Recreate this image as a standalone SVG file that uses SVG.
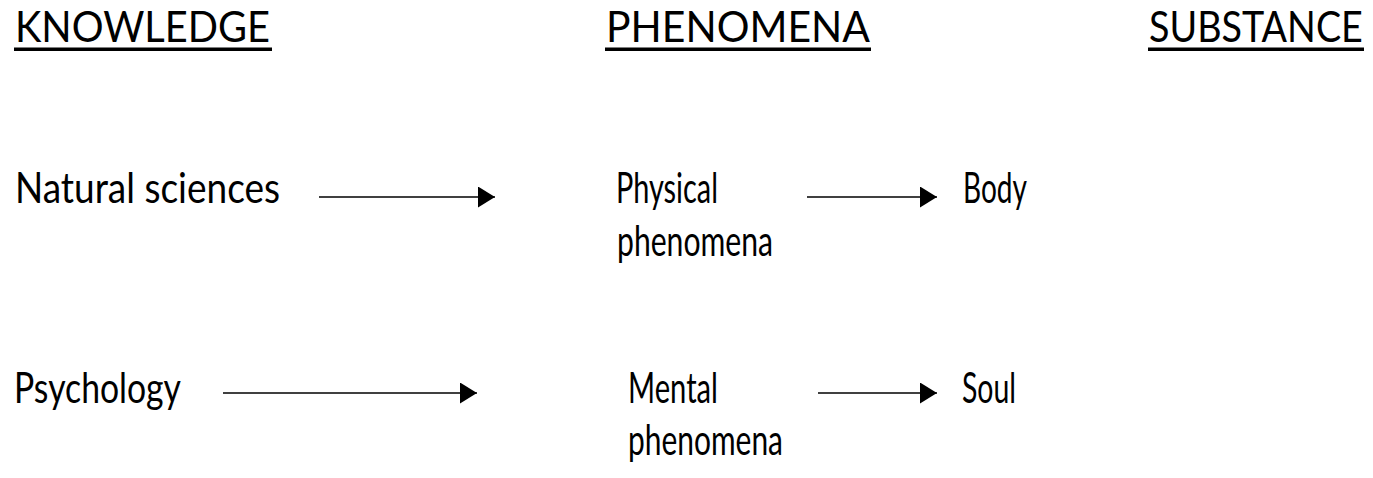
<svg xmlns="http://www.w3.org/2000/svg" width="1373" height="478" viewBox="0 0 1373 478">
<style>
text{font-family:Lato,"Open Sans","Liberation Sans",sans-serif;font-size:43px;fill:#000}
.ul{fill:#000}
.conn line{stroke:#000;stroke-width:1.6}
</style>
<defs>
<marker id="ah" markerUnits="userSpaceOnUse" markerWidth="17" markerHeight="21" refX="17" refY="10.5" orient="auto">
<path d="M0,0 L17,10.5 L0,21 z" fill="#000"/>
</marker>
</defs>
<rect width="1373" height="478" fill="#fff"/>
<g id="h-knowledge"><text x="15" y="42" textLength="255" lengthAdjust="spacingAndGlyphs">KNOWLEDGE</text><rect class="ul" x="14" y="47.5" width="258" height="3.5"/></g>
<g id="h-phenomena"><text x="606" y="42" textLength="264" lengthAdjust="spacingAndGlyphs">PHENOMENA</text><rect class="ul" x="605" y="47.5" width="266" height="3.5"/></g>
<g id="h-substance"><text transform="translate(1149,42) scale(0.88,1)" x="0" y="0" textLength="243" lengthAdjust="spacingAndGlyphs">SUBSTANCE</text><rect class="ul" x="1148" y="47.5" width="216" height="3.5"/></g>
<g id="n-natural"><text x="15" y="203" textLength="265" lengthAdjust="spacingAndGlyphs">Natural sciences</text></g>
<g id="n-physical"><text x="616" y="203" textLength="102" lengthAdjust="spacingAndGlyphs">Physical</text><text x="617" y="256" textLength="156" lengthAdjust="spacingAndGlyphs">phenomena</text></g>
<g id="n-body"><text x="963" y="203" textLength="64" lengthAdjust="spacingAndGlyphs">Body</text></g>
<g id="n-psychology"><text x="14" y="403" textLength="167" lengthAdjust="spacingAndGlyphs">Psychology</text></g>
<g id="n-mental"><text x="628" y="403" textLength="90" lengthAdjust="spacingAndGlyphs">Mental</text><text x="628" y="455" textLength="155" lengthAdjust="spacingAndGlyphs">phenomena</text></g>
<g id="n-soul"><text x="962" y="403" textLength="54" lengthAdjust="spacingAndGlyphs">Soul</text></g>
<g class="conn" id="connectors">
<line x1="319" y1="197" x2="495" y2="197" marker-end="url(#ah)"/>
<line x1="807" y1="197" x2="937" y2="197" marker-end="url(#ah)"/>
<line x1="223" y1="393" x2="477" y2="393" marker-end="url(#ah)"/>
<line x1="818" y1="393" x2="937" y2="393" marker-end="url(#ah)"/>
</g>
</svg>
